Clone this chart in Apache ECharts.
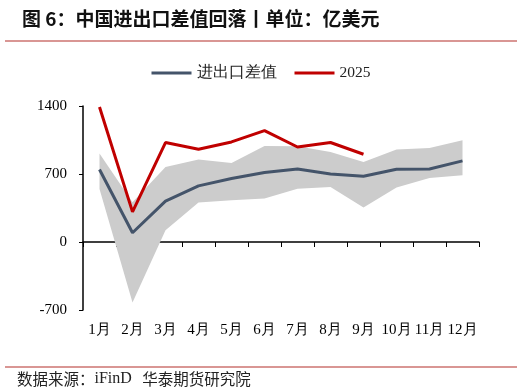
<!DOCTYPE html>
<html><head><meta charset="utf-8">
<script src="https://cdn.jsdelivr.net/npm/echarts@6/dist/echarts.min.js"></script>
<style>html,body{margin:0;padding:0;background:#fff}#c{width:522px;height:392px}</style>
</head><body><div id="c"></div>
<script>
const categories = ['1月','2月','3月','4月','5月','6月','7月','8月','9月','10月','11月','12月'];
const tradeBalance = [746, 95, 420, 578, 654, 715, 752, 701, 677, 749, 752, 835];
const y2025 = [1390, 310, 1024, 955, 1030, 1147, 978, 1024, 903];
const bandUpper = [912, 410, 773, 849, 814, 989, 986, 927, 824, 952, 968, 1047];
const bandLower = [545, -622, 122, 407, 431, 448, 547, 567, 356, 561, 660, 688];
const yTicks = [-700, 0, 700, 1400];

const bandDiff = bandUpper.map((u, i) => u - bandLower[i]);
const serif = '"Liberation Serif","Times New Roman",serif';
const cjk = '"Noto Sans CJK SC","Noto Sans",sans-serif';

const chart = echarts.init(document.getElementById('c'), null, {renderer: 'canvas'});
chart.setOption({
  animation: false,
  backgroundColor: '#fff',
  title: {
    text: '图 6：中国进出口差值回落丨单位：亿美元',
    left: 17, top: 4,
    textStyle: {fontFamily: cjk, fontSize: 19, fontWeight: 'bold', color: '#111'}
  },
  legend: {
    data: ['进出口差值', '2025'],
    top: 60, left: 'center',
    itemWidth: 40, itemHeight: 3, itemGap: 18,
    icon: 'rect',
    textStyle: {fontFamily: serif, fontSize: 15.5, color: '#222'}
  },
  grid: {left: 83, right: 43, top: 106, bottom: 82},
  xAxis: {
    type: 'category',
    data: categories,
    boundaryGap: true,
    axisLine: {lineStyle: {color: '#000', width: 1.5}},
    axisTick: {show: true, alignWithLabel: false, length: 5, lineStyle: {color: '#000'}},
    axisLabel: {fontFamily: serif, fontSize: 15, color: '#000', margin: 13, interval: 0}
  },
  yAxis: {
    type: 'value',
    min: -700, max: 1400, interval: 700,
    axisLine: {show: true, lineStyle: {color: '#000', width: 1.5}},
    axisTick: {show: true, length: 4, lineStyle: {color: '#000'}},
    splitLine: {show: false},
    axisLabel: {fontFamily: serif, fontSize: 15, color: '#000', margin: 16,
      customValues: yTicks, formatter: v => String(v)}
  },
  series: [
    {
      name: 'bandBase', type: 'line', data: bandLower, stack: 'band', stackStrategy: 'all',
      symbol: 'none', lineStyle: {opacity: 0}, silent: true, z: 1
    },
    {
      name: 'band', type: 'line', data: bandDiff, stack: 'band', stackStrategy: 'all',
      symbol: 'none', lineStyle: {opacity: 0}, areaStyle: {color: '#cccccc', opacity: 1},
      silent: true, z: 1
    },
    {
      name: '进出口差值', type: 'line', data: tradeBalance, symbol: 'none',
      lineStyle: {color: '#44546A', width: 3}, itemStyle: {color: '#44546A'}, z: 3
    },
    {
      name: '2025', type: 'line', data: y2025, symbol: 'none',
      lineStyle: {color: '#C00000', width: 3}, itemStyle: {color: '#C00000'}, z: 4
    }
  ],
  graphic: [
    {type: 'rect', shape: {x: 5, y: 40, width: 512, height: 2}, style: {fill: '#D99694'}},
    {type: 'rect', shape: {x: 5, y: 366, width: 512, height: 2}, style: {fill: '#D99694'}},
    {type: 'text', left: 17, top: 371,
      style: {
        text: '{c|数据来源：}{s|iFinD}{c|   华泰期货研究院}',
        rich: {
          c: {fontFamily: cjk, fontSize: 15.5, fill: '#222'},
          s: {fontFamily: serif, fontSize: 16, fill: '#222'}
        }
      }}
  ]
});
</script></body></html>
